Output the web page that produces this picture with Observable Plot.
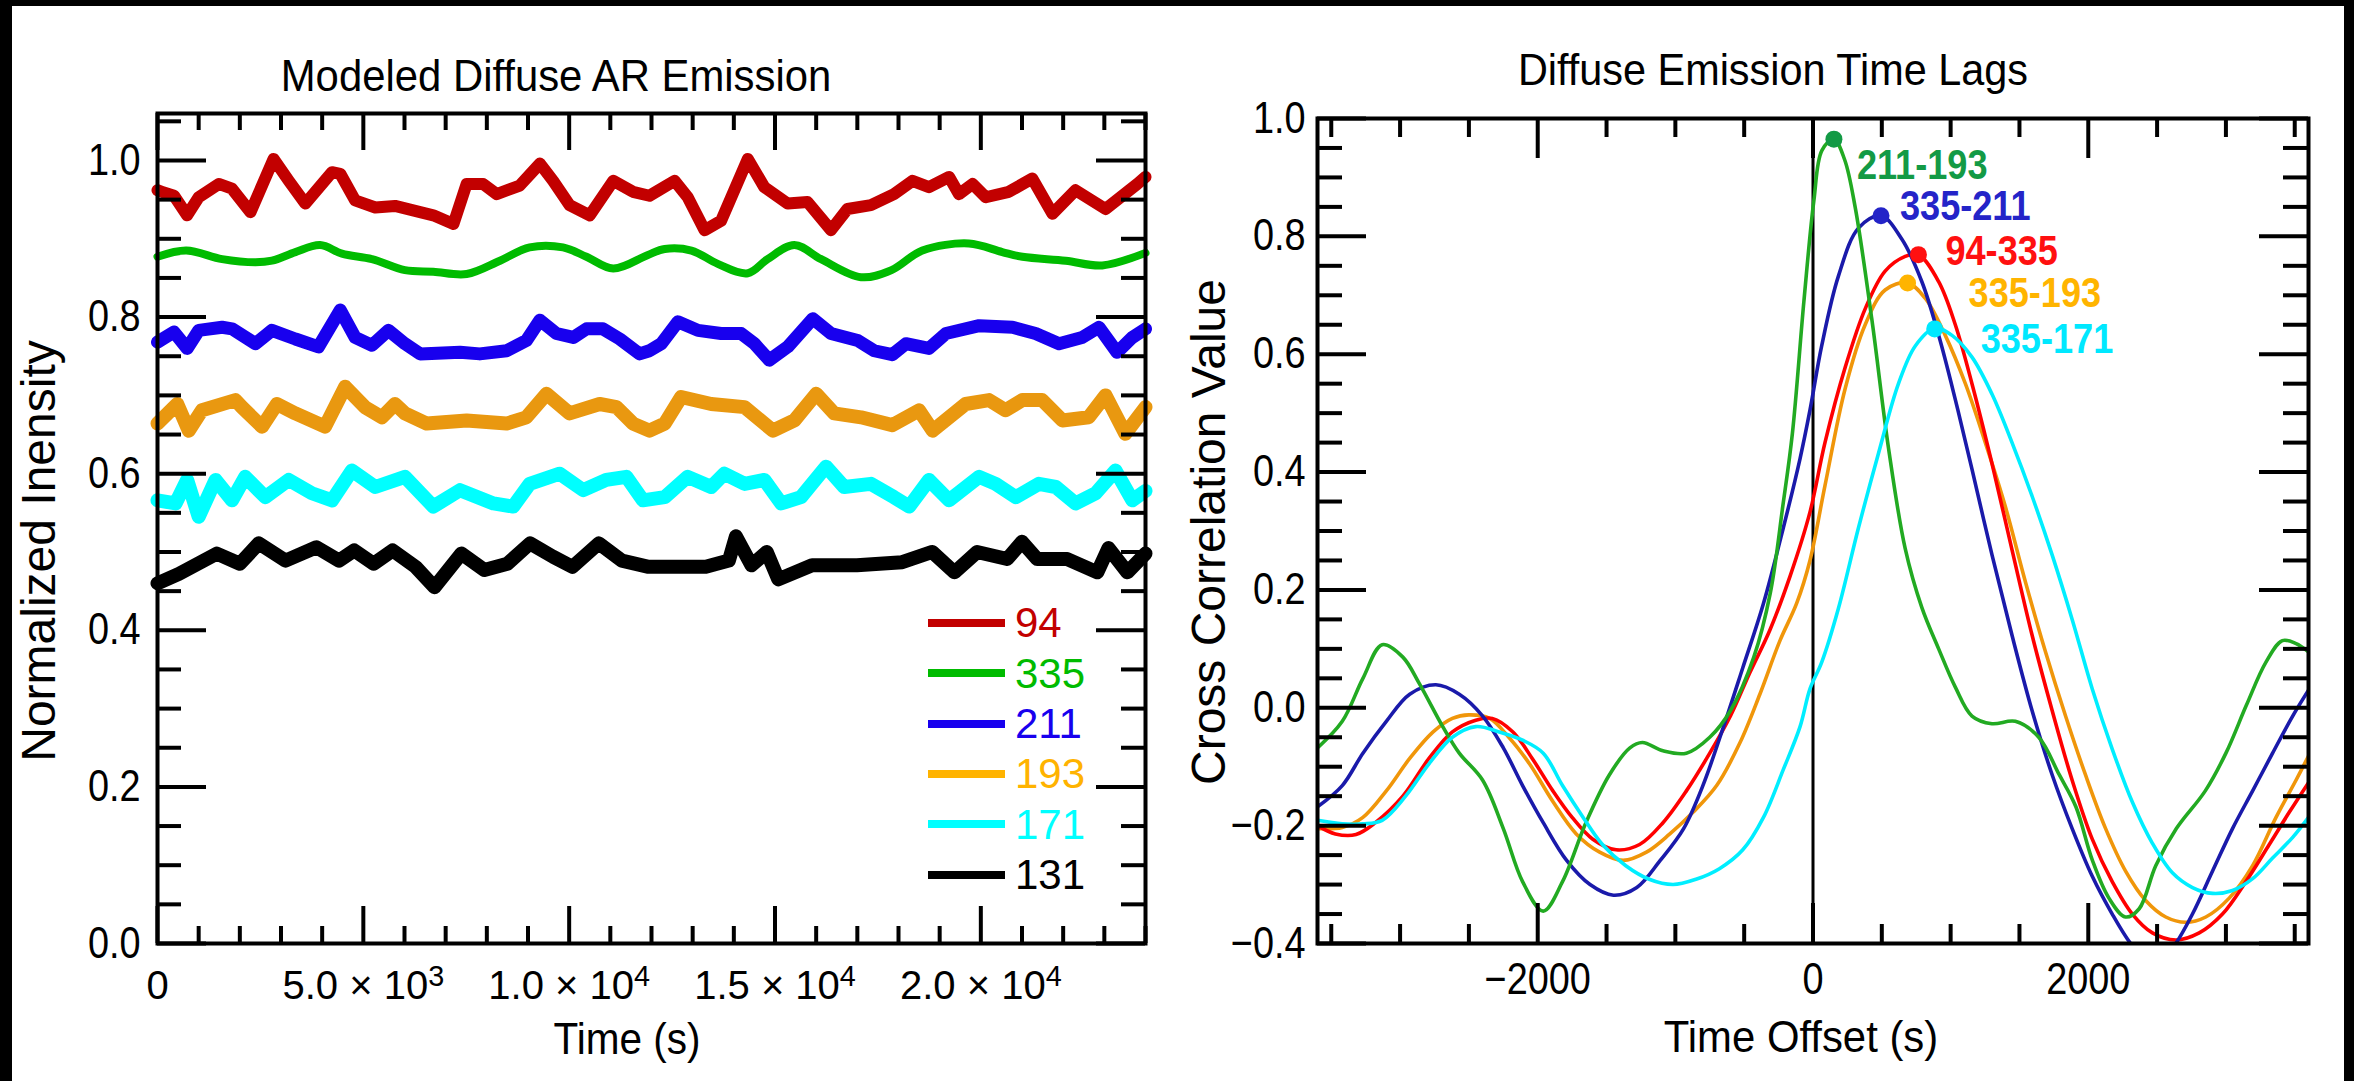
<!DOCTYPE html>
<html>
<head>
<meta charset="utf-8">
<script src="https://cdn.jsdelivr.net/npm/d3@7"></script>
<script src="https://cdn.jsdelivr.net/npm/@observablehq/plot@0.6"></script>
<style>
html, body { margin: 0; padding: 0; background: #000; width: 2354px; height: 1081px; overflow: hidden; }
#sheet { position: absolute; left: 12px; top: 6px; width: 2332px; height: 1075px; background: #fff; }
.panel { position: absolute; top: 0; }
.txt { position: absolute; white-space: nowrap; line-height: 1; font-family: "Liberation Sans", Arial, sans-serif; color: #000; }
.leg-line { position: absolute; height: 8px; }
</style>
</head>
<body>
<div id="sheet"></div>
<div id="left" class="panel" style="left:0px"></div>
<div id="right" class="panel" style="left:1180px"></div>
<div id="overlay"></div>
<script>
// ---------------- DATA: left panel (Modeled Diffuse AR Emission) ----------------
const channels = ["94", "335", "211", "193", "171", "131"];

const time94 = [0,110,400,720,1000,1490,1810,2260,2820,3190,3590,4240,4440,4800,5290,5770,6380,6700,7190,7510,7910,8240,8800,9290,9610,10010,10500,11070,11550,11950,12560,12880,13290,13690,14340,14740,15310,15790,16360,16760,17330,17890,18340,18740,19230,19470,19800,20120,20680,21250,21740,22300,23030,23800,24000];
const int94 = [0.962,0.960,0.955,0.930,0.953,0.970,0.964,0.934,1.002,0.974,0.945,0.985,0.983,0.949,0.940,0.942,0.934,0.930,0.919,0.970,0.970,0.957,0.968,0.996,0.974,0.943,0.930,0.974,0.960,0.955,0.974,0.953,0.911,0.923,1.002,0.966,0.945,0.947,0.911,0.938,0.943,0.957,0.974,0.966,0.979,0.957,0.970,0.953,0.960,0.977,0.932,0.962,0.938,0.970,0.979];

const time335 = [0,700,1570,2380,2780,3350,3950,4480,5210,6010,6700,7510,8320,9040,9850,10420,11070,11900,12320,12970,13610,14340,14820,15470,16120,17090,17830,18580,19710,20520,21010,22060,22950,24000];
const int335 = [0.877,0.885,0.874,0.870,0.872,0.883,0.892,0.881,0.874,0.860,0.858,0.855,0.872,0.889,0.889,0.877,0.862,0.879,0.887,0.885,0.868,0.856,0.874,0.892,0.874,0.851,0.860,0.885,0.894,0.883,0.877,0.872,0.866,0.882];

const time211 = [0,400,720,1000,1570,1810,2380,2780,3350,3910,4440,4800,5210,5610,6010,6380,7350,7830,8480,8960,9290,9690,10100,10420,10820,11230,11710,11950,12240,12640,13130,13690,14180,14500,14860,15310,15920,16360,17010,17410,17850,18180,18740,19150,19960,20770,21330,21900,22460,22870,23310,23680,24000];
const int211 = [0.768,0.781,0.760,0.783,0.787,0.785,0.766,0.783,0.772,0.762,0.809,0.774,0.764,0.783,0.766,0.753,0.755,0.753,0.757,0.770,0.796,0.779,0.774,0.785,0.785,0.772,0.753,0.757,0.766,0.794,0.783,0.779,0.779,0.766,0.745,0.762,0.798,0.779,0.770,0.757,0.752,0.766,0.760,0.779,0.789,0.787,0.779,0.766,0.774,0.787,0.755,0.774,0.785];

const time193 = [0,480,760,1080,1890,2050,2540,2900,3350,4070,4560,5040,5450,5770,6010,6540,7510,8480,8960,9450,10010,10740,11150,11550,11950,12320,12720,13450,14260,14950,15470,16000,16440,17090,17850,18500,18830,19630,20200,20600,21010,21490,21980,22620,23030,23510,24000];
const int193 = [0.664,0.689,0.655,0.681,0.694,0.685,0.660,0.689,0.677,0.660,0.711,0.685,0.672,0.689,0.677,0.664,0.668,0.664,0.672,0.702,0.677,0.689,0.685,0.664,0.655,0.664,0.698,0.689,0.685,0.655,0.668,0.702,0.677,0.672,0.662,0.681,0.655,0.689,0.694,0.681,0.694,0.694,0.668,0.672,0.700,0.651,0.685];

const time171 = [0,440,720,1000,1410,1810,2130,2620,3190,3750,4240,4720,5290,6010,6700,7350,8160,8640,9040,9770,10340,10900,11390,11790,12320,12880,13450,13770,14260,14740,15150,15630,16240,16680,17330,17890,18260,18740,19230,19960,20360,20850,21410,21820,22300,22790,23270,23680,24000];
const int171 = [0.566,0.562,0.592,0.545,0.592,0.566,0.596,0.570,0.592,0.575,0.566,0.604,0.583,0.596,0.558,0.579,0.562,0.558,0.587,0.600,0.579,0.592,0.596,0.566,0.570,0.596,0.583,0.600,0.587,0.592,0.562,0.570,0.609,0.583,0.587,0.570,0.558,0.592,0.566,0.596,0.587,0.570,0.587,0.583,0.562,0.575,0.604,0.566,0.578];

const time131 = [0,520,1440,2000,2460,3110,3860,4410,4780,5250,5710,6270,6730,7380,7940,8500,9050,9610,10080,10720,11280,11930,12580,13320,13880,14050,14430,14800,15080,15900,16990,18090,18820,19360,19910,20640,21000,21370,22100,22830,23100,23560,24000];
const int131 = [0.460,0.472,0.498,0.485,0.511,0.489,0.506,0.489,0.502,0.485,0.502,0.481,0.455,0.498,0.477,0.485,0.511,0.494,0.481,0.511,0.489,0.481,0.481,0.481,0.489,0.520,0.483,0.500,0.465,0.483,0.483,0.487,0.500,0.474,0.500,0.491,0.513,0.491,0.491,0.474,0.505,0.474,0.498];

const leftXTicks = [0, 5000, 10000, 15000, 20000];
const leftXTickLabels = ["0", "5.0 × 10^3", "1.0 × 10^4", "1.5 × 10^4", "2.0 × 10^4"];
const leftYTicks = [0, 0.2, 0.4, 0.6, 0.8, 1.0];

// ---------------- DATA: right panel (Diffuse Emission Time Lags) ----------------
const pairs = ["211-193", "335-211", "94-335", "335-193", "335-171"];

const lag211_193 = [-3600,-3420,-3270,-3130,-2980,-2860,-2690,-2570,-2400,-2250,-2110,-1960,-1820,-1650,-1480,-1330,-1240,-1090,-920,-750,-600,-430,-310,-220,-150,-66,6,65,152,230,306,427,549,670,791,913,1034,1155,1300,1470,1640,1790,1910,2030,2150,2270,2370,2490,2640,2850,3000,3150,3290,3410,3510,3600];
const cc211_193 = [-0.068,-0.023,0.050,0.107,0.086,0.041,-0.032,-0.077,-0.123,-0.205,-0.295,-0.345,-0.295,-0.195,-0.114,-0.068,-0.059,-0.073,-0.077,-0.050,-0.005,0.086,0.195,0.341,0.465,0.690,0.860,0.946,0.965,0.930,0.850,0.660,0.440,0.270,0.170,0.100,0.035,-0.014,-0.027,-0.023,-0.050,-0.114,-0.168,-0.259,-0.323,-0.355,-0.341,-0.268,-0.205,-0.141,-0.077,0.005,0.077,0.114,0.109,0.095];

const lag335_211 = [-3600,-3420,-3270,-3100,-2930,-2740,-2570,-2400,-2250,-2110,-1960,-1790,-1620,-1450,-1280,-1110,-940,-800,-650,-510,-360,-216,-94,-22,63,184,330,494,646,791,913,1034,1155,1301,1446,1592,1738,1883,2029,2174,2308,2400,2470,2560,2636,2757,2903,3048,3194,3339,3485,3600];
const cc335_211 = [-0.168,-0.132,-0.077,-0.023,0.023,0.039,0.023,-0.014,-0.068,-0.132,-0.195,-0.259,-0.300,-0.318,-0.305,-0.259,-0.205,-0.132,-0.032,0.068,0.177,0.305,0.423,0.505,0.614,0.732,0.814,0.835,0.795,0.723,0.632,0.523,0.405,0.259,0.123,-0.005,-0.114,-0.205,-0.286,-0.350,-0.400,-0.422,-0.430,-0.422,-0.400,-0.350,-0.277,-0.205,-0.141,-0.077,-0.014,0.030];

const lag94_335 = [-3600,-3470,-3320,-3180,-2980,-2790,-2620,-2450,-2330,-2180,-2040,-1890,-1750,-1600,-1430,-1260,-1090,-920,-750,-600,-460,-313,-167,-22,87,233,379,524,670,766,913,1034,1155,1301,1446,1592,1738,1883,2029,2174,2320,2466,2636,2806,2975,3145,3315,3461,3600];
const cc94_335 = [-0.200,-0.214,-0.215,-0.195,-0.150,-0.086,-0.041,-0.021,-0.018,-0.041,-0.086,-0.141,-0.186,-0.223,-0.241,-0.232,-0.195,-0.141,-0.077,-0.014,0.059,0.132,0.223,0.332,0.450,0.577,0.677,0.741,0.766,0.769,0.723,0.650,0.550,0.414,0.268,0.123,-0.005,-0.123,-0.223,-0.295,-0.350,-0.382,-0.394,-0.382,-0.350,-0.295,-0.232,-0.177,-0.127];

const lag335_193 = [-3600,-3420,-3270,-3100,-2930,-2760,-2620,-2500,-2350,-2210,-2060,-1890,-1720,-1550,-1380,-1210,-1040,-870,-700,-530,-386,-240,-119,-22,87,233,379,524,687,815,961,1107,1252,1398,1543,1689,1835,1980,2126,2271,2417,2563,2708,2854,3024,3194,3364,3509,3600];
const cc335_193 = [-0.205,-0.203,-0.186,-0.141,-0.086,-0.041,-0.018,-0.012,-0.018,-0.050,-0.095,-0.159,-0.214,-0.245,-0.259,-0.245,-0.214,-0.177,-0.132,-0.059,0.023,0.114,0.177,0.250,0.377,0.541,0.650,0.709,0.721,0.695,0.632,0.550,0.450,0.341,0.214,0.095,-0.014,-0.114,-0.205,-0.277,-0.327,-0.355,-0.364,-0.355,-0.323,-0.268,-0.186,-0.123,-0.082];

const lag335_171 = [-3600,-3420,-3270,-3130,-2960,-2790,-2620,-2450,-2280,-2110,-1960,-1820,-1670,-1530,-1360,-1190,-1017,-850,-680,-510,-360,-216,-94,-22,63,184,330,476,621,743,884,1010,1155,1301,1446,1592,1738,1883,2029,2174,2320,2466,2611,2757,2903,3048,3194,3339,3485,3600];
const cc335_171 = [-0.191,-0.197,-0.197,-0.191,-0.150,-0.095,-0.050,-0.032,-0.041,-0.055,-0.077,-0.132,-0.186,-0.232,-0.268,-0.291,-0.300,-0.291,-0.273,-0.241,-0.186,-0.105,-0.032,0.032,0.077,0.168,0.305,0.432,0.550,0.614,0.644,0.632,0.595,0.532,0.450,0.359,0.259,0.150,0.032,-0.070,-0.160,-0.230,-0.280,-0.305,-0.315,-0.310,-0.290,-0.255,-0.220,-0.186];

const peakLag = [152, 494, 766, 687, 884];
const peakValue = [0.965, 0.835, 0.769, 0.721, 0.643];

const rightXTicks = [-2000, 0, 2000];
const rightYTicks = [-0.4, -0.2, 0, 0.2, 0.4, 0.6, 0.8, 1.0];

// ---------------- STYLES ----------------
const FONT = '"Liberation Sans", Arial, sans-serif';
const leftColor = {"94": "#c20000", "335": "#00bb00", "211": "#1800ee", "193": "#e99810", "171": "#00ffff", "131": "#000000"};
const legendColor = {"94": "#c20000", "335": "#00bb00", "211": "#1800ee", "193": "#ffb300", "171": "#00ffff", "131": "#000000"};
const leftWidth = {"94": 12, "335": 8, "211": 13, "193": 14, "171": 14, "131": 14};
const curveColor = {"211-193": "#22aa22", "335-211": "#1a1aaa", "94-335": "#ff0000", "335-193": "#f0960a", "335-171": "#00eeff"};
const labelColor = {"211-193": "#139a45", "335-211": "#2424c8", "94-335": "#ff1010", "335-193": "#ffb400", "335-171": "#00e8ff"};
const labelOffset = {"211-193": [23, 26], "335-211": [19, -9], "94-335": [27, -3], "335-193": [61, 11], "335-171": [46, 11]};
const TICK_FONT = 44, TICK_SQUEEZE = 0.86, LABEL_FONT = 42, LABEL_SQUEEZE = 0.86;

const zip = (xs, ys) => xs.map((x, i) => ({x, y: ys[i]}));
const leftSeries = {"94": zip(time94, int94), "335": zip(time335, int335), "211": zip(time211, int211),
                    "193": zip(time193, int193), "171": zip(time171, int171), "131": zip(time131, int131)};
const rightSeries = {"211-193": zip(lag211_193, cc211_193), "335-211": zip(lag335_211, cc335_211),
                     "94-335": zip(lag94_335, cc94_335), "335-193": zip(lag335_193, cc335_193), "335-171": zip(lag335_171, cc335_171)};
const peaks = pairs.map((p, i) => ({pair: p, lag: peakLag[i], value: peakValue[i]}));

// inward ticks on all four sides (IDL style box)
function boxTicks(xMajor, xMinor, yMajor, yMinor, fw, fh, xl, xs, yl, ys) {
  const st = {stroke: "#000", strokeWidth: 4, strokeLinecap: "butt"};
  return [
    Plot.tickX(xMajor, {x: d => d, insetTop: fh - xl, ...st}),
    Plot.tickX(xMajor, {x: d => d, insetBottom: fh - xl, ...st}),
    Plot.tickX(xMinor, {x: d => d, insetTop: fh - xs, ...st}),
    Plot.tickX(xMinor, {x: d => d, insetBottom: fh - xs, ...st}),
    Plot.tickY(yMajor, {y: d => d, insetRight: fw - yl, ...st}),
    Plot.tickY(yMajor, {y: d => d, insetLeft: fw - yl, ...st}),
    Plot.tickY(yMinor, {y: d => d, insetRight: fw - ys, ...st}),
    Plot.tickY(yMinor, {y: d => d, insetLeft: fw - ys, ...st})
  ];
}
function squeeze(texts, k) {
  texts.forEach(t => {
    const w = t.getComputedTextLength();
    if (w > 0) { t.setAttribute("textLength", (w * k).toFixed(2)); t.setAttribute("lengthAdjust", "spacingAndGlyphs"); }
  });
}
// turn "a^b" tick strings into a base text plus a raised exponent
function superscripts(texts) {
  texts.forEach(t => {
    const s = t.textContent;
    if (!s.includes("^")) return;
    const [base, exp] = s.split("^");
    t.textContent = base;
    const sup = document.createElementNS("http://www.w3.org/2000/svg", "tspan");
    sup.setAttribute("dy", "-0.45em");
    sup.setAttribute("font-size", "0.72em");
    sup.textContent = exp;
    t.appendChild(sup);
  });
}

// ---------------- LEFT PLOT ----------------
{
  const W = 1180, H = 1081, m = {top: 113, right: 35, bottom: 138, left: 157};
  const fw = W - m.left - m.right, fh = H - m.top - m.bottom;
  const xMinor = d3.range(0, 24001, 1000).filter(d => d % 5000 !== 0);
  const yMinor = d3.range(0, 106, 5).filter(d => d % 20 !== 0).map(d => d / 100);
  const labelMap = new Map(leftXTicks.map((d, i) => [d, leftXTickLabels[i]]));
  const chart = Plot.plot({
    width: W, height: H,
    marginTop: m.top, marginRight: m.right, marginBottom: m.bottom, marginLeft: m.left,
    style: {background: "transparent", fontFamily: FONT, maxWidth: "none", overflow: "visible"},
    x: {domain: [0, 24000]},
    y: {domain: [0, 1.06]},
    marks: [
      ...channels.map(c => Plot.line(leftSeries[c], {x: "x", y: "y", stroke: leftColor[c], strokeWidth: leftWidth[c],
        curve: c === "335" ? "catmull-rom" : "linear"})),
      ...boxTicks(leftXTicks, xMinor, leftYTicks, yMinor, fw, fh, 37, 17, 49, 24),
      Plot.frame({stroke: "#000", strokeWidth: 4}),
      Plot.axisX(leftXTicks, {anchor: "bottom", tickSize: 0, tickPadding: 27, fontSize: 40, label: null, tickFormat: d => labelMap.get(d)}),
      Plot.axisY(leftYTicks, {anchor: "left", tickSize: 0, tickPadding: 17, fontSize: TICK_FONT, label: null, tickFormat: d3.format(".1f")})
    ]
  });
  document.getElementById("left").appendChild(chart);
  squeeze(chart.querySelectorAll('g[aria-label="y-axis tick label"] text'), TICK_SQUEEZE);
  superscripts(chart.querySelectorAll('g[aria-label="x-axis tick label"] text'));
}

// ---------------- RIGHT PLOT ----------------
{
  const W = 1174, H = 1081, m = {top: 118, right: 46, bottom: 138, left: 137};
  const fw = W - m.left - m.right, fh = H - m.top - m.bottom;
  const xMinor = d3.range(-3500, 3501, 500).filter(d => d % 2000 !== 0);
  const yMinor = d3.range(-40, 101, 5).filter(d => d % 20 !== 0).map(d => d / 100);
  const order = ["335-193", "94-335", "335-211", "211-193", "335-171"];
  const chart = Plot.plot({
    width: W, height: H,
    marginTop: m.top, marginRight: m.right, marginBottom: m.bottom, marginLeft: m.left,
    style: {background: "transparent", fontFamily: FONT, maxWidth: "none", overflow: "visible"},
    x: {domain: [-3600, 3600]},
    y: {domain: [-0.4, 1.0]},
    color: {type: "identity"},
    marks: [
      Plot.ruleX([0], {stroke: "#000", strokeWidth: 3}),
      ...order.map(p => Plot.line(rightSeries[p], {x: "x", y: "y", stroke: curveColor[p], strokeWidth: 3.6, curve: "catmull-rom", clip: true})),
      Plot.dot(peaks, {x: "lag", y: "value", r: 8.5, fill: d => labelColor[d.pair], stroke: "none"}),
      ...peaks.map(p => Plot.text([p], {x: "lag", y: "value", text: "pair", fill: labelColor[p.pair],
        textAnchor: "start", fontWeight: "bold", fontSize: LABEL_FONT, fontFamily: FONT,
        dx: labelOffset[p.pair][0], dy: labelOffset[p.pair][1]})),
      ...boxTicks(rightXTicks, xMinor, rightYTicks, yMinor, fw, fh, 40, 19, 49, 25),
      Plot.frame({stroke: "#000", strokeWidth: 4}),
      Plot.axisX(rightXTicks, {anchor: "bottom", tickSize: 0, tickPadding: 19, fontSize: TICK_FONT, label: null, tickFormat: d3.format("d")}),
      Plot.axisY(rightYTicks, {anchor: "left", tickSize: 0, tickPadding: 12, fontSize: TICK_FONT, label: null, tickFormat: d3.format(".1f")})
    ]
  });
  document.getElementById("right").appendChild(chart);
  squeeze(chart.querySelectorAll('g[aria-label$="tick label"] text'), TICK_SQUEEZE);
  squeeze(Array.from(chart.querySelectorAll("text")).filter(t => pairs.includes(t.textContent)), LABEL_SQUEEZE);
}

// ---------------- TEXT: titles, axis labels, legend ----------------
const overlay = document.getElementById("overlay");
const ASC = 0.8465;
function hText(str, cx, baseline, size, sx) {
  const d = document.createElement("div");
  d.className = "txt";
  d.textContent = str;
  d.style.fontSize = size + "px";
  d.style.left = cx + "px";
  d.style.top = (baseline - ASC * size) + "px";
  d.style.transform = `translateX(-50%) scaleX(${sx})`;
  overlay.appendChild(d);
}
function vText(str, baselineX, cy, size) {
  const d = document.createElement("div");
  d.className = "txt";
  d.textContent = str;
  d.style.fontSize = size + "px";
  d.style.left = (baselineX - ASC * size) + "px";
  d.style.top = cy + "px";
  d.style.transformOrigin = "0 0";
  d.style.transform = "rotate(-90deg) translateX(-50%)";
  overlay.appendChild(d);
}
hText("Modeled Diffuse AR Emission", 556, 91, 45, 0.93);
hText("Diffuse Emission Time Lags", 1773, 85, 45, 0.92);
hText("Time (s)", 627, 1054, 45, 0.9);
hText("Time Offset (s)", 1801, 1052, 45, 0.93);
vText("Normalized Inensity", 56, 551, 48);
vText("Cross Correlation Value", 1226, 532, 48);

// legend inside left panel
channels.forEach((c, k) => {
  const y = 623 + 50.3 * k;
  const ln = document.createElement("div");
  ln.className = "leg-line";
  ln.style.left = "928px"; ln.style.width = "77px";
  ln.style.top = (y - 4) + "px";
  ln.style.background = legendColor[c];
  overlay.appendChild(ln);
  const t = document.createElement("div");
  t.className = "txt";
  t.textContent = c;
  t.style.fontSize = "42px";
  t.style.left = "1015px";
  t.style.top = (y + 15 - ASC * 42) + "px";
  t.style.color = legendColor[c];
  overlay.appendChild(t);
});
</script>
</body>
</html>
